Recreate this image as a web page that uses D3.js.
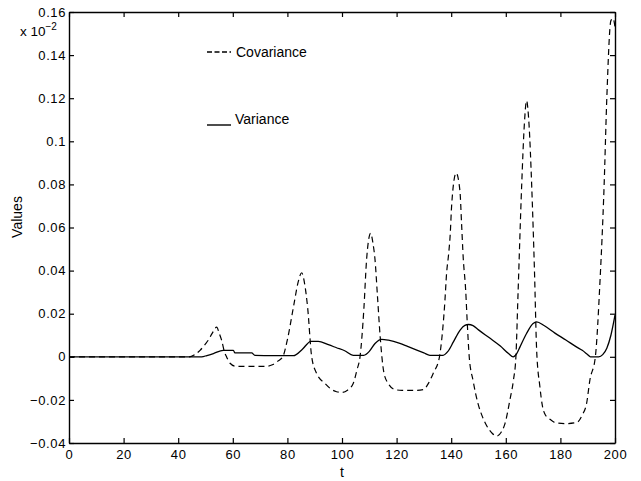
<!DOCTYPE html>
<html>
<head>
<meta charset="utf-8">
<script src="https://cdn.jsdelivr.net/npm/d3@7"></script>
<style>
  html, body { margin: 0; padding: 0; background: #fff; }
  svg { display: block; font-family: "Liberation Sans", Arial, Helvetica, sans-serif; }
</style>
</head>
<body>
<svg id="chart" width="641" height="481"></svg>
<script>
// ---- data (values in units of 1e-2, as displayed on the axis) ----
const covT = [0, 44, 46, 48, 50, 51, 52.5, 54.1, 55, 55.9, 57, 57.7, 59, 61, 66, 72.4, 74.5, 76.5, 78.3,
  80, 82.2, 84, 85.2, 86.3, 87.4, 88.9, 90.7, 93.8, 96, 98, 100, 102, 104.1, 105.5, 106.6,
  108, 109, 110.5, 111.3, 112.1, 113, 114, 115.4, 117, 119.4, 122, 127, 129.8, 131.8, 133.4, 135.7,
  136.5, 137.7, 138.3, 139, 139.6, 140.2, 141.8, 143.2, 143.8, 144.4, 145.3, 145.9, 146.6,
  148, 149.8, 151.5, 153, 155, 156.7, 158.3, 159.7, 161.5, 162.8, 163.7,
  164.5, 165.8, 166.8, 167.6, 168.5, 169.5, 170.5, 171.3, 172.5, 173.3, 174.5, 176.2, 178, 182, 186,
  188, 189.6, 190.8, 192.8, 194.5, 196, 197, 198.5, 199.3, 200];
const covariance = [0, 0, 0.001, 0.003, 0.006, 0.0077, 0.011, 0.0138, 0.011, 0.0077, 0.002, 0, -0.003, -0.0044, -0.0044, -0.0044, -0.0037, -0.002, 0,
  0.008, 0.023, 0.035, 0.039, 0.034, 0.023, 0, -0.0077, -0.0124, -0.015, -0.0162, -0.0165, -0.0155, -0.0124, -0.006, 0,
  0.022, 0.045, 0.0574, 0.053, 0.045, 0.028, 0.009, -0.0077, -0.0125, -0.0152, -0.0156, -0.0156, -0.0152, -0.012, -0.0077, 0,
  0.0077, 0.026, 0.0386, 0.047, 0.056, 0.071, 0.0853, 0.077, 0.0617, 0.046, 0.031, 0.0154, 0,
  -0.011, -0.0216, -0.028, -0.032, -0.0355, -0.0368, -0.035, -0.031, -0.02, -0.0108, 0,
  0.03, 0.079, 0.108, 0.1188, 0.108, 0.079, 0.04, 0.003, -0.014, -0.022, -0.027, -0.029, -0.0305, -0.031, -0.0305,
  -0.027, -0.0216, -0.0108, 0, 0.035, 0.079, 0.12, 0.156, 0.157, 0.153];

const varT = [0, 48.6, 50.5, 52.9, 56.5, 60.2, 60.8, 66.9, 68.1, 75, 82.2, 85.5, 88.6, 91.3, 95, 98, 101, 104.1, 108,
  110, 112.1, 114.5, 117, 121.2, 124, 127.4, 130, 132.2, 137, 138.8, 140.8, 143.2, 145, 146.3, 148, 150, 154, 158, 161, 162.7,
  164, 165.2, 167.6, 170, 171.3, 174, 178, 182, 186, 188, 190, 191, 194, 195.5, 197, 198.5, 200];
const variance = [0, 0, 0.0006, 0.0015, 0.003, 0.003, 0.0018, 0.0018, 0.0007, 0.0005, 0.0005, 0.0035, 0.0072, 0.0072, 0.0056, 0.0042, 0.0028, 0.0007, 0.0007,
  0.0025, 0.0062, 0.0081, 0.0077, 0.0062, 0.0048, 0.0031, 0.0018, 0.0007, 0.0007, 0.0025, 0.0069, 0.0123, 0.0146, 0.015, 0.0145, 0.0125, 0.0088, 0.005, 0.0015, 0,
  0.0015, 0.0046, 0.0108, 0.0154, 0.0162, 0.0145, 0.011, 0.0078, 0.0045, 0.003, 0.001, 0, 0, 0.001, 0.004, 0.010, 0.0193];

const xTicks = [0, 20, 40, 60, 80, 100, 120, 140, 160, 180, 200];
const yTicks = [-0.04, -0.02, 0, 0.02, 0.04, 0.06, 0.08, 0.1, 0.12, 0.14, 0.16];
const yTickLabels = ["\u22120.04", "\u22120.02", "0", "0.02", "0.04", "0.06", "0.08", "0.1", "0.12", "0.14", "0.16"];
const legendLabels = ["Covariance", "Variance"];

// ---- layout ----
const pLeft = 69, pRight = 615, pTop = 12, pBottom = 443;
const svg = d3.select("#chart");
const x = d3.scaleLinear().domain([0, 200]).range([pLeft, pRight]);
const y = d3.scaleLinear().domain([-0.04, 0.16]).range([pBottom, pTop]);
const tickLen = 5;

// lines
const lineGen = d3.line().x(d => x(d[0])).y(d => y(d[1])).curve(d3.curveMonotoneX);
svg.append("path")
  .datum(covT.map((t, i) => [t, covariance[i]]))
  .attr("d", lineGen)
  .attr("fill", "none").attr("stroke", "#000").attr("stroke-width", 1.2)
  .attr("stroke-dasharray", "6,4");
svg.append("path")
  .datum(varT.map((t, i) => [t, variance[i]]))
  .attr("d", lineGen)
  .attr("fill", "none").attr("stroke", "#000").attr("stroke-width", 1.3);

// axes (inward ticks on all four sides)
const fmtY = d => yTickLabels[yTicks.indexOf(d)];
const axL = svg.append("g").attr("transform", `translate(${pLeft},0)`)
  .call(d3.axisLeft(y).tickValues(yTicks).tickFormat(fmtY).tickSizeInner(-tickLen).tickSizeOuter(0).tickPadding(3));
const axR = svg.append("g").attr("transform", `translate(${pRight},0)`)
  .call(d3.axisRight(y).tickValues(yTicks).tickFormat("").tickSizeInner(-tickLen).tickSizeOuter(0));
const axB = svg.append("g").attr("transform", `translate(0,${pBottom})`)
  .call(d3.axisBottom(x).tickValues(xTicks).tickFormat(d3.format("d")).tickSizeInner(-tickLen).tickSizeOuter(0).tickPadding(7));
const axT = svg.append("g").attr("transform", `translate(0,${pTop})`)
  .call(d3.axisTop(x).tickValues(xTicks).tickFormat("").tickSizeInner(-tickLen).tickSizeOuter(0));
[axL, axR, axB, axT].forEach(g => {
  g.select(".domain").attr("stroke", "#000").attr("stroke-width", 1.4);
  g.selectAll(".tick line").attr("stroke", "#000").attr("stroke-width", 1.2);
  g.selectAll("text").attr("fill", "#000").attr("font-size", 13).attr("letter-spacing", 0.6)
    .attr("font-family", "Liberation Sans, Arial, sans-serif");
});

// exponent label
const ex = svg.append("text").attr("x", 20).attr("y", 36).attr("font-size", 13.5).attr("fill", "#000");
ex.append("tspan").text("x 10");
ex.append("tspan").attr("dy", -6).attr("font-size", 10).text("\u22122");

// axis titles
svg.append("text").attr("x", x(100)).attr("y", 477).attr("text-anchor", "middle")
  .attr("font-size", 14).text("t");
svg.append("text").attr("transform", `translate(22,217) rotate(-90)`)
  .attr("text-anchor", "middle").attr("font-size", 14).text("Values");

// legend
const lg = svg.append("g");
lg.append("line").attr("x1", 207).attr("x2", 231).attr("y1", 52).attr("y2", 52)
  .attr("stroke", "#000").attr("stroke-width", 1.3).attr("stroke-dasharray", "5,2.5");
lg.append("text").attr("x", 236).attr("y", 57).attr("font-size", 14).text(legendLabels[0]);
lg.append("line").attr("x1", 207).attr("x2", 231).attr("y1", 125).attr("y2", 125)
  .attr("stroke", "#000").attr("stroke-width", 1.4);
lg.append("text").attr("x", 235).attr("y", 124).attr("font-size", 14).text(legendLabels[1]);
</script>
</body>
</html>
